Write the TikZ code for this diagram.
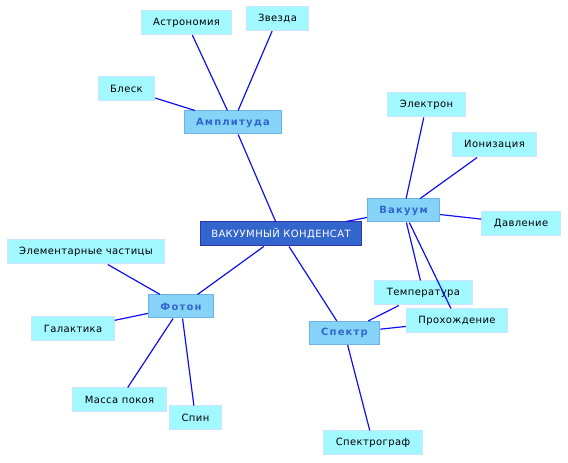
\documentclass[tikz,border=0pt]{standalone}
\usepackage{fontspec}
\setmainfont{DejaVu Sans}[LetterSpace=4]
\newfontfamily\hubfont[LetterSpace=12,BoldFont=DejaVu Sans Bold]{DejaVu Sans}
\usepackage{tikz}
\usetikzlibrary{positioning, backgrounds}
\definecolor{mcore}{HTML}{3366CC}
\definecolor{mcoreline}{HTML}{3333AA}
\definecolor{mhub}{HTML}{85D3F7}
\definecolor{mhubline}{HTML}{6FB2EA}
\definecolor{mleaf}{HTML}{A2F8FF}
\definecolor{mleafline}{HTML}{CCE4FF}
\definecolor{medge}{HTML}{1010F0}
\tikzset{
  corebox/.style={draw=mcoreline, fill=mcore, text=white, line width=1pt,
                  minimum height=24pt, inner xsep=11pt, font=\fontsize{10}{12}\selectfont},
  hubbox/.style={draw=mhubline, fill=mhub, text=mcore, line width=1pt,
                 minimum height=23pt, inner xsep=12pt, font=\hubfont\bfseries\fontsize{10}{12}\selectfont},
  leafbox/.style={draw=mleafline, fill=mleaf, line width=1pt,
                  minimum height=24pt, inner xsep=12pt, font=\fontsize{10}{12}\selectfont},
  link/.style={medge, line width=1.2pt},
}
\begin{document}
\begin{tikzpicture}[x=1pt, y=1pt]
  \useasboundingbox (0,0) rectangle (568,463);

  % Centre
  \node[corebox] (core) at (281,229) {ВАКУУМНЫЙ КОНДЕНСАТ};

  % Hubs
  \node[hubbox] (amp) at (233,340.5) {Амплитуда};
  \node[hubbox] (vak) at (403.5,252.5) {Вакуум};
  \node[hubbox] (foton) at (181,156.5) {Фотон};
  \node[hubbox] (spektr) at (344.5,130) {Спектр};

  % Leaves of Амплитуда
  \node[leafbox] (astr) at (186.5,440.5) {Астрономия};
  \node[leafbox] (zvezda) at (277.5,444.5) {Звезда};
  \node[leafbox] (blesk) at (126.5,374) {Блеск};

  % Leaves of Вакуум
  \node[leafbox] (elektron) at (426.5,358) {Электрон};
  \node[leafbox] (ioniz) at (494.5,318) {Ионизация};
  \node[leafbox] (davl) at (521,239.5) {Давление};
  \node[leafbox] (temp) at (423.5,170) {Температура};
  \node[leafbox] (prokh) at (457,142) {Прохождение};

  % Leaves of Фотон
  \node[leafbox] (elem) at (86,211) {Элементарные частицы};
  \node[leafbox] (galak) at (73,134) {Галактика};
  \node[leafbox] (massa) at (119.5,63) {Масса покоя};
  \node[leafbox] (spin) at (195.5,45) {Спин};

  % Leaf of Спектр
  \node[leafbox] (spgraf) at (373,20) {Спектрограф};

  % Links
  \foreach \a/\b in {core/amp, core/vak, core/foton, core/spektr,
                     amp/astr, amp/zvezda, amp/blesk,
                     vak/elektron, vak/ioniz, vak/davl, vak/temp, vak/prokh,
                     foton/elem, foton/galak, foton/massa, foton/spin,
                     spektr/temp, spektr/prokh, spektr/spgraf}
    \draw[link] (\a) -- (\b);

\end{tikzpicture}
\end{document}
